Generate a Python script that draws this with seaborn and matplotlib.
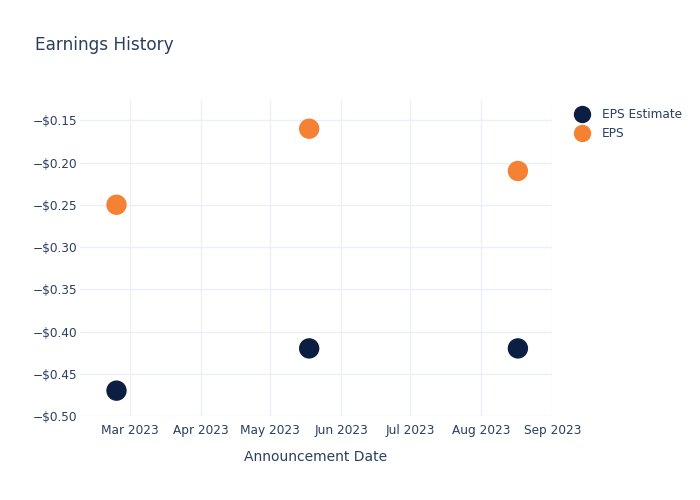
import matplotlib
matplotlib.use("Agg")
import matplotlib.pyplot as plt
import matplotlib.ticker as mticker
import seaborn as sns
import pandas as pd
from matplotlib.lines import Line2D

dates = ["2023-02-23", "2023-05-18", "2023-08-17"]
eps_estimate = [-0.47, -0.42, -0.42]
eps_actual = [-0.25, -0.16, -0.21]
tick_labels = ["Mar 2023", "Apr 2023", "May 2023", "Jun 2023", "Jul 2023", "Aug 2023", "Sep 2023"]
tick_dates = ["2023-03-01", "2023-04-01", "2023-05-01", "2023-06-01", "2023-07-01", "2023-08-01", "2023-09-01"]

sns.set_style("white")
plt.rcParams['font.family'] = ['DejaVu Sans']

text_color = "#2a3f5f"
grid_color = "#ebf0f8"
navy = "#0c1f42"
orange = "#f58134"

df = pd.DataFrame({
    "date": pd.to_datetime(dates * 2),
    "value": eps_estimate + eps_actual,
    "series": ["EPS Estimate"] * 3 + ["EPS"] * 3,
})

fig = plt.figure(figsize=(7, 5), dpi=100)
ax = fig.add_axes([0.114, 0.168, 0.675, 0.632])

sns.scatterplot(data=df, x="date", y="value", hue="series",
                palette={"EPS Estimate": navy, "EPS": orange},
                s=215, linewidth=0, ax=ax, legend=False, zorder=3)

ax.set_xlim(pd.Timestamp("2023-02-07"), pd.Timestamp("2023-09-01"))
ax.set_ylim(-0.50, -0.126)
ax.set_xticks(pd.to_datetime(tick_dates))
ax.set_xticklabels(tick_labels)
ax.set_yticks([-0.50, -0.45, -0.40, -0.35, -0.30, -0.25, -0.20, -0.15])
ax.yaxis.set_major_formatter(mticker.FuncFormatter(lambda v, p: f"\u2212${abs(v):.2f}"))

ax.grid(True, color=grid_color, linewidth=1)
ax.set_axisbelow(True)
for s in ax.spines.values():
    s.set_visible(False)
ax.tick_params(axis="both", length=0, labelsize=8.7, labelcolor=text_color)
ax.tick_params(axis="y", pad=2)
ax.tick_params(axis="x", pad=6)
ax.set_xlabel("Announcement Date", fontsize=10, color=text_color, labelpad=9)
ax.set_ylabel("")

fig.text(0.05, 0.911, "Earnings History", fontsize=12.2, color=text_color, va="center")

handles = [Line2D([], [], marker="o", linestyle="", markersize=11.5, color=navy),
           Line2D([], [], marker="o", linestyle="", markersize=11.5, color=orange)]
fig.legend(handles, ["EPS Estimate", "EPS"], loc="upper left",
           bbox_to_anchor=(0.805, 0.806), frameon=False, fontsize=8.7,
           labelcolor=text_color, handletextpad=1.1, labelspacing=0.5,
           handlelength=1.2)

fig.savefig("out.png", dpi=100)
